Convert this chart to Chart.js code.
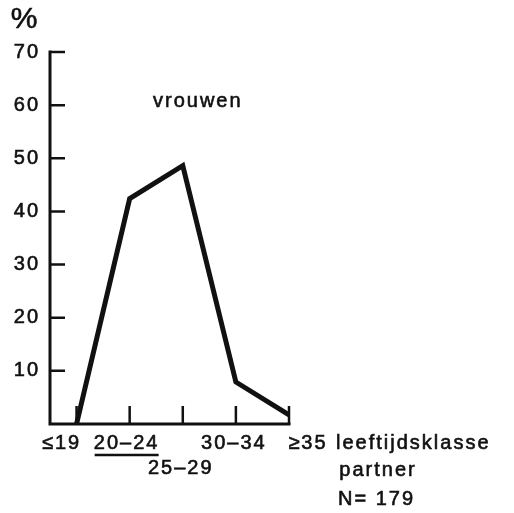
<!DOCTYPE html>
<html>
<head>
<meta charset="utf-8">
<script src="https://cdn.jsdelivr.net/npm/chart.js@4"></script>
<style>
  html, body { margin: 0; padding: 0; background: #fff; }
  canvas { display: block; }
</style>
</head>
<body>
<canvas id="grafiek" width="514" height="513"></canvas>
<script>
// gegevens
const klassen = ['≤19', '20–24', '25–29', '30–34', '≥35'];
const percentages = [0, 42.4, 48.6, 7.9, 1.7];
const yTicks = [10, 20, 30, 40, 50, 60, 70];
const titel = 'vrouwen';
const eenheid = '%';
const asTitel = ['leeftijdsklasse', 'partner', 'N= 179'];

const INKT = '#111';
const FONT = '"Liberation Sans", Arial, sans-serif';

// plek van de klasse-labels t.o.v. hun streepje
const labelPlek = [
    { dx: -15, rij: 0 },
    { dx: -3, rij: 0, onder: true },
    { dx: -2, rij: 1 },
    { dx: -2, rij: 0 },
    { dx: 19, rij: 0 }
];

const tekst = (ctx, s, x, y, align, size) => {
    ctx.font = `${size || 20}px ${FONT}`;
    ctx.textAlign = align || 'center';
    ctx.textBaseline = 'middle';
    ctx.lineWidth = 0.6;
    ctx.fillText(s, x, y);
    ctx.strokeText(s, x, y); // iets vetter, zoals de drukletter
};

// assen met streepjes naar binnen, zoals in het origineel
const assenPlugin = {
    id: 'assen',
    beforeDatasetsDraw(chart) {
        const { ctx, chartArea, scales } = chart;
        const xs = scales.x, ys = scales.y;
        const links = chartArea.left, onder = ys.getPixelForValue(0);
        const boven = ys.getPixelForValue(yTicks[yTicks.length - 1]);
        const rechts = xs.getPixelForValue(klassen.length - 1);
        ctx.save();
        ctx.strokeStyle = INKT;
        ctx.lineWidth = 3;
        ctx.lineCap = 'square';
        ctx.beginPath();
        ctx.moveTo(links, boven);
        ctx.lineTo(links, onder);
        ctx.lineTo(rechts, onder);
        ctx.stroke();

        ctx.lineWidth = 2.5;
        ctx.lineCap = 'butt';
        ctx.beginPath();
        yTicks.forEach(v => {
            const y = ys.getPixelForValue(v);
            ctx.moveTo(links, y);
            ctx.lineTo(links + 15, y);
        });
        klassen.forEach((k, i) => {
            const x = xs.getPixelForValue(i);
            ctx.moveTo(x, onder);
            ctx.lineTo(x, onder - 18);
        });
        ctx.stroke();
        ctx.restore();
    },
    afterDraw(chart) {
        const { ctx, chartArea, scales } = chart;
        const xs = scales.x, ys = scales.y;
        const onder = ys.getPixelForValue(0);
        ctx.save();
        ctx.fillStyle = INKT;
        ctx.strokeStyle = INKT;
        ctx.letterSpacing = '2px';

        yTicks.forEach(v => {
            tekst(ctx, String(v), chartArea.left - 10, ys.getPixelForValue(v), 'right');
        });
        tekst(ctx, eenheid, 25, 20, 'center', 30);

        klassen.forEach((k, i) => {
            const p = labelPlek[i];
            const x = xs.getPixelForValue(i) + p.dx;
            const y = onder + 19 + p.rij * 25;
            tekst(ctx, k, x, y);
            if (p.onder) {
                ctx.lineWidth = 2.5;
                ctx.beginPath();
                ctx.moveTo(x - 32, y + 12);
                ctx.lineTo(x + 32, y + 12);
                ctx.stroke();
            }
        });

        tekst(ctx, asTitel[0], 336, onder + 19, 'left');
        tekst(ctx, asTitel[1], 378, onder + 46);
        tekst(ctx, asTitel[2], 338, onder + 75, 'left');

        tekst(ctx, titel, 153, ys.getPixelForValue(60) - 4, 'left');
        ctx.restore();
    }
};

new Chart(document.getElementById('grafiek'), {
    type: 'line',
    data: {
        datasets: [{
            data: percentages.map((p, i) => ({ x: i, y: p })),
            borderColor: INKT,
            borderWidth: 5,
            pointRadius: 0,
            tension: 0,
            clip: false,
            borderJoinStyle: 'miter'
        }]
    },
    options: {
        responsive: false,
        animation: false,
        layout: { padding: { left: 50, top: 52, right: 225, bottom: 89 } },
        scales: {
            x: { type: 'linear', min: -0.5, max: klassen.length - 1, display: false },
            y: { min: 0, max: 70, display: false }
        },
        plugins: { legend: { display: false }, tooltip: { enabled: false } }
    },
    plugins: [assenPlugin]
});
</script>
</body>
</html>
